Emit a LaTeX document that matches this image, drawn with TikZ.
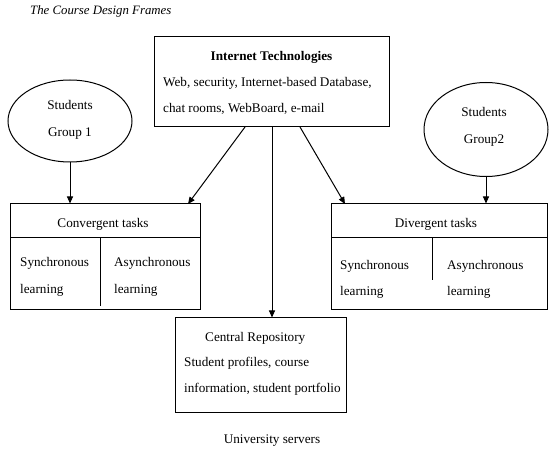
\documentclass[tikz,border=0pt]{standalone}
\usepackage{fontspec}
\setmainfont{Liberation Serif}
\usetikzlibrary{arrows.meta,shapes.geometric}
\begin{document}
\begin{tikzpicture}[x=1pt,y=-1pt,
  box/.style={draw, line width=1pt, rectangle, inner sep=0pt},
  blob/.style={draw, ellipse, line width=1pt, inner sep=0pt},
  txt/.style={inner sep=0pt, anchor=base west, font=\fontsize{13.2}{16}\selectfont},
  ctxt/.style={inner sep=0pt, anchor=base, font=\fontsize{13.2}{16}\selectfont},
  divline/.style={line width=1pt},
  arr/.style={-{Triangle[length=7pt,width=6pt]}, line width=1pt}]
\useasboundingbox (0,0) rectangle (550,457);

% title
\node[txt, font=\fontsize{12.8}{15}\selectfont\itshape] (title) at (30,15) {The Course Design Frames};

% Internet technologies
\node[box, minimum width=235pt, minimum height=90pt] (it) at (271.5,82) {};
\node[ctxt, font=\fontsize{13.2}{16}\selectfont\bfseries] (itt) at (271.5,61) {Internet Technologies};
\node[txt] (it1) at (163,87) {Web, security, Internet-based Database,};
\node[txt] (it2) at (163,113) {chat rooms, WebBoard, e-mail};

% ellipses
\node[blob, minimum width=124pt, minimum height=82pt] (g1) at (70,121) {};
\node[ctxt] (g1a) at (70,110) {Students};
\node[ctxt] (g1b) at (70,137) {Group 1};

\node[blob, minimum width=124pt, minimum height=94pt] (g2) at (486,129.5) {};
\node[ctxt] (g2a) at (484,117) {Students};
\node[ctxt] (g2b) at (484,144) {Group2};

% convergent
\node[box, minimum width=190pt, minimum height=106pt] (cv) at (105,257) {};
\coordinate (cvl) at (10,238);
\coordinate (cvr) at (200,238);
\draw[divline] (cvl) -- (cvr);
\coordinate (cvd1) at (100,238);
\coordinate (cvd2) at (100,306);
\draw[divline] (cvd1) -- (cvd2);
\node[ctxt] (cvt) at (103,228) {Convergent tasks};
\node[txt] (cv1) at (20,267) {Synchronous};
\node[txt] (cv2) at (20,294) {learning};
\node[txt] (cv3) at (114,267) {Asynchronous};
\node[txt] (cv4) at (114,294) {learning};

% divergent
\node[box, minimum width=216pt, minimum height=106pt] (dv) at (439,257) {};
\coordinate (dvl) at (331,238);
\coordinate (dvr) at (547,238);
\draw[divline] (dvl) -- (dvr);
\coordinate (dvd1) at (432,238);
\coordinate (dvd2) at (432,280);
\draw[divline] (dvd1) -- (dvd2);
\node[ctxt] (dvt) at (436,228) {Divergent tasks};
\node[txt] (dv1) at (340,270) {Synchronous};
\node[txt] (dv2) at (340,296) {learning};
\node[txt] (dv3) at (447,270) {Asynchronous};
\node[txt] (dv4) at (447,296) {learning};

% central repository
\node[box, minimum width=171pt, minimum height=95pt] (cr) at (260.5,365.5) {};
\node[txt] (cr1) at (205,342) {Central Repository};
\node[txt] (cr2) at (184,367) {Student profiles, course};
\node[txt] (cr3) at (184,393) {information, student portfolio};

\node[ctxt] (us) at (272,444) {University servers};

% connectors
\draw[arr] (g1.south) -- (cv.north -| g1.south);
\draw[arr] (g2.south) -- (dv.north -| g2.south);
\coordinate (a1s) at (245,127);
\coordinate (a1e) at (188,204);
\draw[arr] (a1s) -- (a1e);
\coordinate (a2s) at (300,127);
\coordinate (a2e) at (345,204);
\draw[arr] (a2s) -- (a2e);
\draw[arr] (it.south -| 272,0) -- (cr.north -| 272,0);
\end{tikzpicture}
\end{document}
